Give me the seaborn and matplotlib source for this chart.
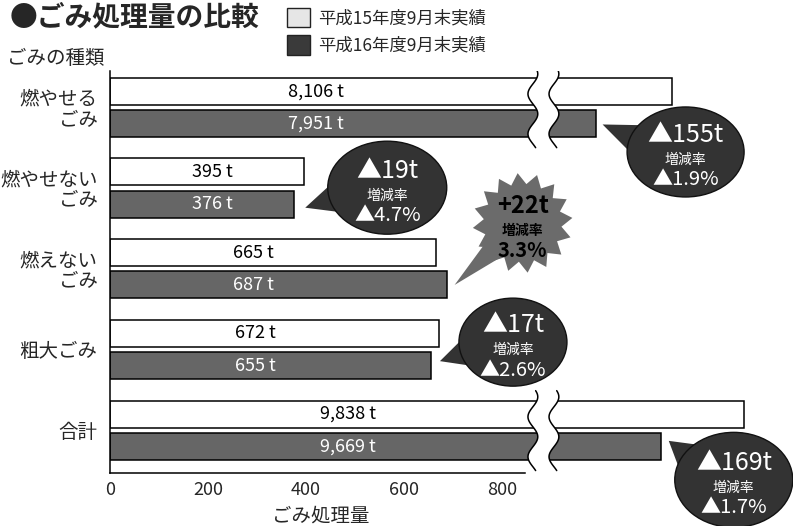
import matplotlib.pyplot as plt
import numpy as np
import pandas as pd
import seaborn as sns
from matplotlib.patches import Ellipse, Polygon, Patch
from matplotlib.transforms import IdentityTransform

# data
categories = ['燃やせる\nごみ', '燃やせない\nごみ', '燃えない\nごみ', '粗大ごみ', '合計']
h15 = [8106, 395, 665, 672, 9838]
h16 = [7951, 376, 687, 655, 9669]
changes = ['▲155t', '▲19t', '+22t', '▲17t', '▲169t']
rates = ['▲1.9%', '▲4.7%', '3.3%', '▲2.6%', '▲1.7%']
series = ['平成15年度9月末実績', '平成16年度9月末実績']

# amount hidden by the axis break (schematic, as in the original)
hidden = [6960, 0, 0, 0, 8545]

sns.set_style('white')
plt.rcParams['font.family'] = ['Noto Sans CJK JP', 'DejaVu Sans']

shown15 = [v - s for v, s in zip(h15, hidden)]
shown16 = [v - s for v, s in zip(h16, hidden)]
df = pd.DataFrame({
    '種類': categories * 2,
    '年度': [series[0]] * 5 + [series[1]] * 5,
    '表示量': shown15 + shown16,
})

W, H = 793, 526
fig = plt.figure(figsize=(W / 100, H / 100), dpi=100)
ax = fig.add_axes([110 / W, 53 / H, 683 / W, 402 / H])

sns.barplot(data=df, y='種類', x='表示量', hue='年度', orient='h',
            palette=['white', '#666666'], edgecolor='black', linewidth=1.1,
            gap=0.16, legend=False, ax=ax)

ax.set_xlim(0, 683 / 0.49)
ax.set_ylim(4.53, -0.45)
ax.set_xticks([0, 200, 400, 600, 800])
ax.tick_params(axis='x', direction='in', length=9, width=1, labelsize=13, pad=6)
ax.tick_params(axis='y', length=0, labelsize=14, pad=9)
for lab in ax.get_yticklabels():
    lab.set_linespacing(1.0)
for s in ['top', 'right']:
    ax.spines[s].set_visible(False)
for s in ['left', 'bottom']:
    ax.spines[s].set_linewidth(1.1)
    ax.spines[s].set_color('black')
ax.spines['bottom'].set_bounds(0, 847)
ax.set_ylabel('')
ax.set_xlabel('ごみ処理量', fontsize=14, va='center')
ax.xaxis.set_label_coords((321 - 110) / 683, -(516 - 473) / 402)

# value labels inside the bars
label_x = [420, 208, 292, 296, 486]
for i in range(len(categories)):
    ax.text(label_x[i], i - 0.2, f'{h15[i]:,} t', ha='center', va='center',
            fontsize=13, color='black')
    ax.text(label_x[i], i + 0.2, f'{h16[i]:,} t', ha='center', va='center',
            fontsize=13, color='white')

# axis break marks on the long bars
for i, s in enumerate(hidden):
    if s == 0:
        continue
    y = np.linspace(i - 0.49, i + 0.5, 120)
    wave = 10 * np.sin(2 * np.pi * 2 * (y - y[0]) / (y[-1] - y[0]) + 0.6)
    xl, xr = 863 + wave, 906 + wave
    pts = np.vstack([np.column_stack([xl, y]), np.column_stack([xr, y])[::-1]])
    ax.add_patch(Polygon(pts, closed=True, facecolor='white', edgecolor='none', zorder=4))
    ax.plot(xl, y, color='black', lw=1.1, zorder=5)
    ax.plot(xr, y, color='black', lw=1.1, zorder=5)

# callouts (offsets in pixels from the end of the dark bar)
tip_off = [(7, 1), (11, 3.5), (8, 0), (9, -4.5), (8, -5.5)]
ctr_off = [(90, 28.5), (93, -16.5), (76, -62), (82, -23.5), (73, 33.5)]
sizes = [(117, 90), (119, 93), (100, 100), (108, 88), (118, 95)]
ident = IdentityTransform()

for i in range(len(categories)):
    bx, by = ax.transData.transform((shown16[i], i + 0.2))
    tx, ty = bx + tip_off[i][0], by - tip_off[i][1]
    cx, cy = bx + ctr_off[i][0], by - ctr_off[i][1]
    w, h = sizes[i]
    ang = np.arctan2(ty - cy, tx - cx)
    star = changes[i].startswith('+')
    face = '#6b6b6b' if star else '#333333'
    tcol = 'black' if star else 'white'
    weight = 'bold' if star else 'normal'
    if star:
        n = 16
        t = np.linspace(0, 2 * np.pi, 2 * n, endpoint=False) + 0.1
        r = np.where(np.arange(2 * n) % 2 == 0, w / 2, w / 2 - 11)
        body = Polygon(np.column_stack([cx + r * np.cos(t), cy + r * np.sin(t)]),
                       closed=True, facecolor=face, edgecolor='none',
                       transform=ident, zorder=6)
        rb = w / 2 - 12
        p1 = (cx + rb * np.cos(ang + 0.3), cy + rb * np.sin(ang + 0.3))
        p2 = (cx + rb * np.cos(ang - 0.3), cy + rb * np.sin(ang - 0.3))
    else:
        body = Ellipse((cx, cy), w, h, facecolor=face, edgecolor='#111111',
                       lw=1, transform=ident, zorder=6)
        p1 = (cx + w / 2 * 0.9 * np.cos(ang + 0.4), cy + h / 2 * 0.9 * np.sin(ang + 0.4))
        p2 = (cx + w / 2 * 0.9 * np.cos(ang - 0.4), cy + h / 2 * 0.9 * np.sin(ang - 0.4))
    tail = Polygon([p1, (tx, ty), p2], closed=True, facecolor=face,
                   edgecolor='none', transform=ident, zorder=6)
    fig.add_artist(tail)
    fig.add_artist(body)
    big = 17 if star else 18
    fig.text(cx, cy + 17, changes[i], transform=ident, ha='center', va='center',
             fontsize=big, color=tcol, fontweight=weight, zorder=7)
    fig.text(cx, cy - 8, '増減率', transform=ident, ha='center', va='center',
             fontsize=10, color=tcol, fontweight=weight, zorder=7)
    fig.text(cx, cy - 28, rates[i], transform=ident, ha='center', va='center',
             fontsize=14.5, color=tcol, fontweight=weight, zorder=7)

# titles and legend
fig.text(10 / W, 1 - 17 / H, '●ごみ処理量の比較', fontsize=20, fontweight='bold', va='center')
fig.text(7 / W, 1 - 59 / H, 'ごみの種類', fontsize=14, va='center')
handles = [Patch(facecolor='#e6e6e6', edgecolor='#222222', lw=1),
           Patch(facecolor='#3a3a3a', edgecolor='#222222', lw=1)]
fig.legend(handles, series, loc='upper left', bbox_to_anchor=(287 / W, 1 - 8 / H),
           frameon=False, fontsize=12.5, handlelength=1.35, handleheight=1.35,
           handletextpad=0.45, labelspacing=0.45, borderpad=0, borderaxespad=0)

fig.savefig('out.png', dpi=100)
